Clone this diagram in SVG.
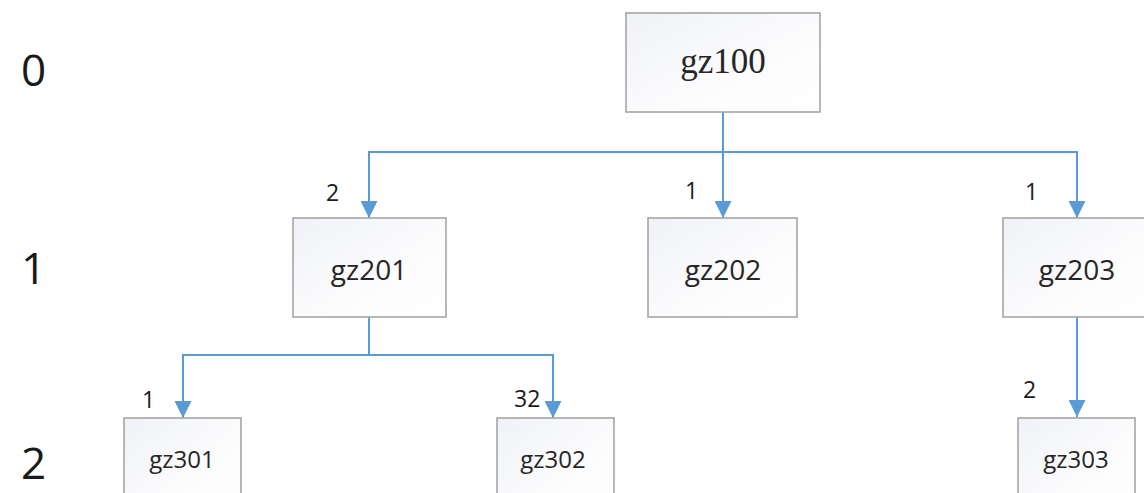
<svg xmlns="http://www.w3.org/2000/svg" width="1144" height="493" viewBox="0 0 1144 493">
  <style>
    .box { fill: url(#boxFill); stroke: #a6a6a6; stroke-width: 1.6; }
    .name { font-family: "Open Sans", "Noto Sans", sans-serif; fill: #262626; text-anchor: middle; }
    .root { font-family: "Liberation Serif", serif; font-size: 35px; fill: #262626; text-anchor: middle; }
    .lvl2 { font-size: 28px; }
    .lvl3 { font-size: 24px; }
    .level { font-family: "Open Sans", "Noto Sans", sans-serif; font-size: 44px; fill: #1a1a1a; }
    .count { font-family: "Open Sans", "Noto Sans", sans-serif; font-size: 23px; fill: #1a1a1a; }
    .edge { fill: none; stroke: #5b9bd5; stroke-width: 2; marker-end: url(#arrow); }
  </style>
  <defs>
    <linearGradient id="boxFill" x1="0" y1="0" x2="1" y2="1">
      <stop offset="0" stop-color="#f0f2f7"/>
      <stop offset="0.6" stop-color="#fcfcfd"/>
      <stop offset="1" stop-color="#ffffff"/>
    </linearGradient>
    <marker id="arrow" viewBox="0 0 17 17" refX="17" refY="8.5" markerWidth="17" markerHeight="17" markerUnits="userSpaceOnUse" orient="auto">
      <path d="M0,0 L17,8.5 L0,17 z" fill="#5b9bd5"/>
    </marker>
  </defs>

  <rect width="1144" height="493" fill="#ffffff"/>

  <!-- level numbers -->
  <g id="levels">
    <text class="level" x="21" y="86">0</text>
    <text class="level" x="21" y="284">1</text>
    <text class="level" x="21" y="479">2</text>
  </g>

  <!-- connectors -->
  <g id="connectors">
    <path class="edge" d="M723,112 V152 H369 V218"/>
    <path class="edge" d="M723,112 V218"/>
    <path class="edge" d="M723,152 H1077 V218"/>
    <path class="edge" d="M369,317 V355 H183 V418"/>
    <path class="edge" d="M369,355 H553 V418"/>
    <path class="edge" d="M1077,317 V417"/>
  </g>

  <!-- edge counts -->
  <g id="counts">
    <text class="count" x="326" y="201">2</text>
    <text class="count" x="685" y="199">1</text>
    <text class="count" x="1025" y="200">1</text>
    <text class="count" x="142" y="408">1</text>
    <text class="count" x="514" y="407">32</text>
    <text class="count" x="1023" y="398">2</text>
  </g>

  <g id="gz100">
    <rect class="box" x="626" y="13" width="194" height="99"/>
    <text class="root" x="723" y="73">gz100</text>
  </g>

  <g id="gz201">
    <rect class="box" x="293" y="218" width="153" height="99"/>
    <text class="name lvl2" x="369" y="280">gz201</text>
  </g>

  <g id="gz202">
    <rect class="box" x="648" y="218" width="149" height="99"/>
    <text class="name lvl2" x="723" y="280">gz202</text>
  </g>

  <g id="gz203">
    <rect class="box" x="1003" y="218" width="148" height="99"/>
    <text class="name lvl2" x="1077" y="280">gz203</text>
  </g>

  <g id="gz301">
    <rect class="box" x="124" y="418" width="117" height="100"/>
    <text class="name lvl3" x="182" y="468">gz301</text>
  </g>

  <g id="gz302">
    <rect class="box" x="497" y="418" width="117" height="100"/>
    <text class="name lvl3" x="553" y="468">gz302</text>
  </g>

  <g id="gz303">
    <rect class="box" x="1018" y="418" width="117" height="100"/>
    <text class="name lvl3" x="1076" y="468">gz303</text>
  </g>
</svg>
